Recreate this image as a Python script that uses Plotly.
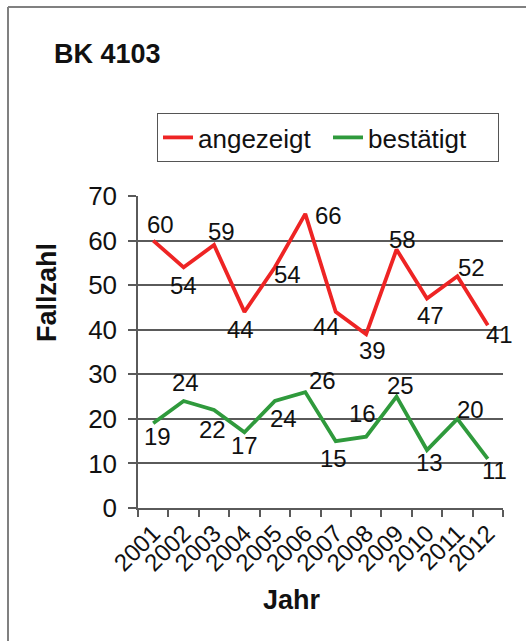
import plotly.graph_objects as go

# Data
years = ["2001", "2002", "2003", "2004", "2005", "2006",
         "2007", "2008", "2009", "2010", "2011", "2012"]
angezeigt = [60, 54, 59, 44, 54, 66, 44, 39, 58, 47, 52, 41]
bestaetigt = [19, 24, 22, 17, 24, 26, 15, 16, 25, 13, 20, 11]

# Label offsets (pixels, x right / y up) for the value labels of each series
off_rot = [(7, 16), (0, -18), (7, 14), (-4, -18), (13, -7), (23, -2),
           (-9, -15), (6, -16), (6, 10), (4, -17), (14, 9), (12, -9)]
off_gruen = [(4, -13), (2, 19), (-2, -20), (0, -13), (9, -17), (17, 12),
             (-2, -17), (-4, 23), (4, 11), (3, -12), (13, 9), (7, -12)]

FONT = "Liberation Sans, Arial, sans-serif"
RED = "#ee2424"
GREEN = "#2f9a3c"
GRID = "#5a5a5a"

W, H = 526, 641
ML, MR, MT, MB = 138, 23, 196, 133
PW, PH = W - ML - MR, H - MT - MB


def px(x):
    return (x - ML) / PW


def py(y):
    return (H - MB - y) / PH


fig = go.Figure()
fig.add_trace(go.Scatter(x=years, y=angezeigt, mode="lines", name="angezeigt",
                         line=dict(color=RED, width=3.8)))
fig.add_trace(go.Scatter(x=years, y=bestaetigt, mode="lines", name="bestätigt",
                         line=dict(color=GREEN, width=3.8)))

annotations = []
for vals, offs in ((angezeigt, off_rot), (bestaetigt, off_gruen)):
    for i, (v, (dx, dy)) in enumerate(zip(vals, offs)):
        # category axis: position by category index
        annotations.append(dict(x=i, y=v, xref="x", yref="y", text=str(v),
                                showarrow=False, xshift=dx, yshift=dy,
                                font=dict(family=FONT, size=24, color="#111")))

annotations += [
    dict(x=px(52), y=py(54), xref="paper", yref="paper", text="<b>BK 4103</b>",
         showarrow=False, xanchor="left", yanchor="middle",
         font=dict(family=FONT, size=27, color="#111")),
    dict(x=px(292), y=py(600), xref="paper", yref="paper", text="<b>Jahr</b>",
         showarrow=False, xanchor="center", yanchor="middle",
         font=dict(family=FONT, size=27, color="#111")),
    dict(x=px(47), y=py(293), xref="paper", yref="paper", text="<b>Fallzahl</b>",
         showarrow=False, textangle=-90, xanchor="center", yanchor="middle",
         font=dict(family=FONT, size=27, color="#111")),
]

shapes = [
    dict(type="line", xref="paper", yref="paper", x0=px(8), x1=px(530),
         y0=py(7), y1=py(7), line=dict(color="#808080", width=2)),
    dict(type="line", xref="paper", yref="paper", x0=px(8), x1=px(8),
         y0=py(7), y1=py(645), line=dict(color="#808080", width=2)),
]

fig.update_layout(
    width=W, height=H,
    margin=dict(l=ML, r=MR, t=MT, b=MB),
    paper_bgcolor="white", plot_bgcolor="white",
    font=dict(family=FONT, color="#111"),
    showlegend=True,
    legend=dict(orientation="h", x=px(157), y=py(113), xanchor="left", yanchor="top",
                bordercolor="#555", borderwidth=1, bgcolor="white",
                font=dict(family=FONT, size=26, color="#111"),
                itemwidth=30, tracegroupgap=0, entrywidth=125),
    annotations=annotations,
    shapes=shapes,
)

fig.update_xaxes(type="category", range=[-0.5, 11.5], tickson="boundaries",
                 ticks="outside", ticklen=7, tickcolor=GRID, tickwidth=1.5,
                 showline=True, linecolor=GRID, linewidth=1.5, showgrid=False,
                 tickangle=-45, tickfont=dict(family=FONT, size=24, color="#111"),
                 fixedrange=True)
fig.update_yaxes(range=[0, 70], dtick=10, ticks="outside", ticklen=8,
                 tickcolor=GRID, tickwidth=1.5, showline=True, linecolor=GRID,
                 linewidth=1.5, showgrid=True, gridcolor=GRID, gridwidth=1.5,
                 zeroline=False, ticklabelstandoff=6,
                 tickfont=dict(family=FONT, size=26, color="#111"),
                 fixedrange=True)

fig.write_html("out.html")
